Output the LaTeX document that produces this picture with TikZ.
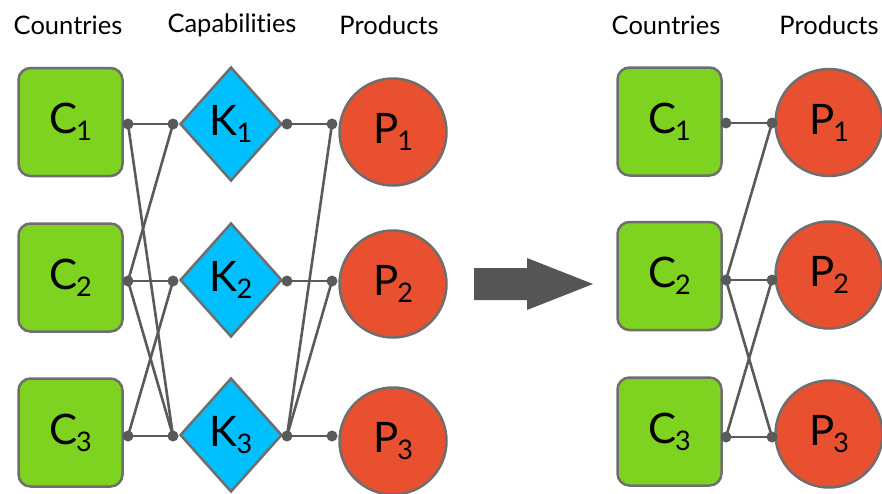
\documentclass[tikz,border=0pt]{standalone}
\usepackage{fontspec}
\setmainfont[Ligatures={NoCommon},Contextuals={NoAlternate}]{Lato}
\usetikzlibrary{shapes.geometric}
\definecolor{cgreen}{HTML}{7ED321}
\definecolor{kblue}{HTML}{00BFFF}
\definecolor{pred}{HTML}{E8502F}
\definecolor{bordergray}{HTML}{6E6E6E}
\definecolor{linegray}{HTML}{5A5A5A}
\definecolor{arrowgray}{HTML}{555555}
\newcommand\lab[2]{#1\kern-1pt\raisebox{-7pt}{\fontsize{27}{27}\selectfont #2}}
\begin{document}
\begin{tikzpicture}[x=1pt,y=-1pt,
  cbox/.style={rectangle, rounded corners=12pt, minimum width=104pt, minimum height=108pt, fill=cgreen, draw=bordergray, line width=2.5pt, font=\fontsize{42}{44}\selectfont, inner sep=0pt},
  kdia/.style={diamond, minimum width=102pt, minimum height=114pt, fill=kblue, draw=bordergray, line width=2.5pt, font=\fontsize{42}{44}\selectfont, inner sep=0pt},
  pcirc/.style={circle, minimum size=107pt, fill=pred, draw=bordergray, line width=2.5pt, font=\fontsize{42}{44}\selectfont, inner sep=0pt},
  dot/.style={circle, fill=linegray, minimum size=11pt, inner sep=0pt},
  edge/.style={draw=linegray, line width=2.6pt},
  heading/.style={font=\fontsize{25.5}{28}\selectfont, inner sep=0pt}
]
\useasboundingbox (0,0) rectangle (882,493);

% headings
\node[heading] (h1) at (68,25) {Countries};
\node[heading] (h2) at (232,25) {Capabili\kern0pt ties};
\node[heading] (h3) at (389,25) {Products};
\node[heading] (h4) at (666,25) {Countries};
\node[heading] (h5) at (829,25) {Products};

% left panel shapes
\node[cbox] (c1) at (70.5,122) {\lab{C}{1}};
\node[cbox] (c2) at (70.5,277.5) {\lab{C}{2}};
\node[cbox] (c3) at (70.5,432.5) {\lab{C}{3}};
\node[kdia] (k1) at (231,124) {\lab{K}{1}};
\node[kdia] (k2) at (231,280) {\lab{K}{2}};
\node[kdia] (k3) at (231,435) {\lab{K}{3}};
\node[pcirc] (p1) at (393,132) {\lab{P}{1}};
\node[pcirc] (p2) at (393,284) {\lab{P}{2}};
\node[pcirc] (p3) at (393,441) {\lab{P}{3}};

% right panel shapes
\node[cbox] (rc1) at (669.5,121.5) {\lab{C}{1}};
\node[cbox] (rc2) at (669.5,276) {\lab{C}{2}};
\node[cbox] (rc3) at (669.5,431.5) {\lab{C}{3}};
\node[pcirc] (rp1) at (829,122.5) {\lab{P}{1}};
\node[pcirc] (rp2) at (829,275) {\lab{P}{2}};
\node[pcirc] (rp3) at (829,434) {\lab{P}{3}};

% dots left
\foreach \i/\y in {1/124,2/281,3/436}{
  \node[dot] (cd\i) at (128,\y) {};
  \node[dot] (kl\i) at (173,\y) {};
  \node[dot] (kr\i) at (287,\y) {};
  \node[dot] (pd\i) at (332,\y) {};
}
% dots right
\foreach \i/\y in {1/123,2/280,3/437}{
  \node[dot] (rcd\i) at (726,\y) {};
  \node[dot] (rpd\i) at (772,\y) {};
}

% left edges: countries - capabilities
\path[edge] (cd1.center) -- (kl1.center);
\path[edge] (cd1.center) -- (kl3.center);
\path[edge] (cd2.center) -- (kl1.center);
\path[edge] (cd2.center) -- (kl2.center);
\path[edge] (cd2.center) -- (kl3.center);
\path[edge] (cd3.center) -- (kl2.center);
\path[edge] (cd3.center) -- (kl3.center);
% capabilities - products
\path[edge] (kr1.center) -- (pd1.center);
\path[edge] (kr2.center) -- (pd2.center);
\path[edge] (kr3.center) -- (pd1.center);
\path[edge] (kr3.center) -- (pd2.center);
\path[edge] (kr3.center) -- (pd3.center);

% right edges
\path[edge] (rcd1.center) -- (rpd1.center);
\path[edge] (rcd2.center) -- (rpd1.center);
\path[edge] (rcd2.center) -- (rpd2.center);
\path[edge] (rcd2.center) -- (rpd3.center);
\path[edge] (rcd3.center) -- (rpd2.center);
\path[edge] (rcd3.center) -- (rpd3.center);

% big arrow
\fill[arrowgray] (474,268) -- (527,268) -- (527,258) -- (593,284) -- (527,310) -- (527,300) -- (474,300) -- cycle;
\end{tikzpicture}
\end{document}
